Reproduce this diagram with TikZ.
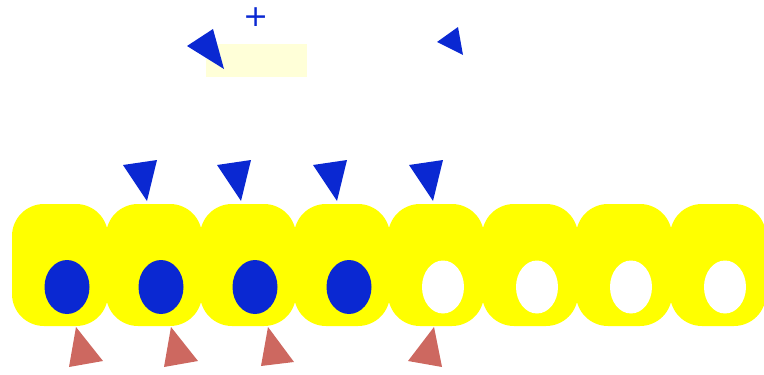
\documentclass[tikz,border=0pt]{standalone}
\usepackage{fontspec}
\newfontfamily\plusfont{DejaVu Sans}
\usetikzlibrary{shapes.geometric}
\usepackage{xcolor}

\definecolor{cellyellow}{HTML}{FFFF00}
\definecolor{paleyellow}{HTML}{FFFFD8}
\definecolor{markblue}{HTML}{0A28D2}
\definecolor{markred}{HTML}{CD6860}

\begin{document}
\begin{tikzpicture}[
        x=1pt, y=-1pt,
        cell/.style={
            fill=cellyellow,
            rounded corners=32pt,
            minimum width=96pt,
            minimum height=122pt,
            inner sep=0pt
        },
        core/.style={
            ellipse,
            fill=markblue,
            minimum width=45pt,
            minimum height=54pt,
            inner sep=0pt
        },
        hole/.style={core, fill=white, minimum width=42pt, minimum height=53pt},
        bluetri/.style={fill=markblue},
        redtri/.style={fill=markred}
    ]
        \useasboundingbox (0,0) rectangle (764,375);

        % Header
        \node[fill=paleyellow, minimum width=101pt, minimum height=33pt, inner sep=0pt] (band) at (256.5,60) {};
        \fill[bluetri] (187,46) -- (213,29) -- (224,69) -- cycle;
        \node[text=markblue, font=\plusfont\fontsize{30}{30}\selectfont, inner sep=0pt] (plus) at (256,17) {+};
        \fill[bluetri] (437,42) -- (458,27) -- (463,55) -- cycle;

        % Row of cells
        \foreach \i in {1,...,8} {
            \node[cell] (c\i) at ({94*\i-34},265) {};
        }
        \foreach \i in {1,...,4} {
            \node[core] (k\i) at ({94*\i-27},287) {};
        }
        \foreach \i in {5,...,8} {
            \node[hole] (k\i) at ({94*\i-27},287) {};
        }

        % Markers above
        \foreach \t in {147,241,337,433} {
            \fill[bluetri] (\t-24,165) -- (\t+10,160) -- (\t,201) -- cycle;
        }

        % Markers below
        \fill[redtri] (76,327) -- (103,361) -- (69,367) -- cycle;
        \fill[redtri] (171,327) -- (198,361) -- (164,367) -- cycle;
        \fill[redtri] (268,327) -- (294,362) -- (261,366) -- cycle;
        \fill[redtri] (434,327) -- (442,367) -- (408,361) -- cycle;
    \end{tikzpicture}
\end{document}
